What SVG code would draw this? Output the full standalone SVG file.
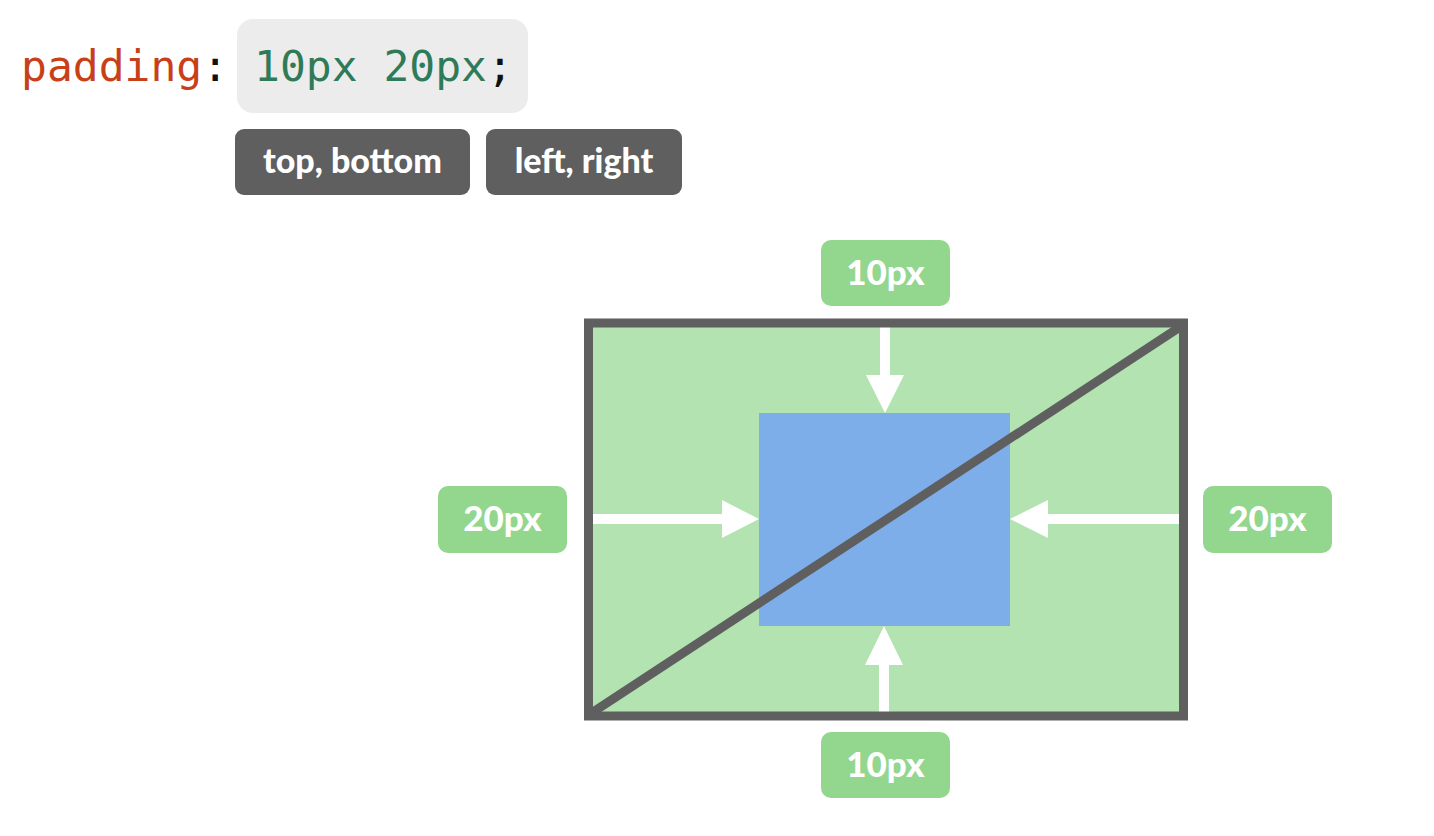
<svg xmlns="http://www.w3.org/2000/svg" width="1434" height="836" viewBox="0 0 1434 836">
  <style>
    .code { font-family: "DejaVu Sans Mono", "Liberation Mono", monospace; font-size: 43px; }
    .tag { fill: #5f5f5f; }
    .tagtxt { font-family: Lato, "Open Sans", sans-serif; font-weight: 900; font-size: 34px; fill: #ffffff; text-anchor: middle; }
    .lbl { fill: #93d68e; }
    .lbltxt { font-family: Lato, "Open Sans", sans-serif; font-weight: 900; font-size: 35px; fill: #ffffff; text-anchor: middle; }
    .arrow { fill: #ffffff; }
  </style>
  <rect width="1434" height="836" fill="#ffffff"/>

  <g id="code">
    <rect x="237" y="19" width="291" height="94" rx="16" fill="#ececec"/>
    <text class="code" x="21" y="81"><tspan fill="#c8401a">padding</tspan><tspan fill="#111111">:</tspan><tspan x="254" fill="#2f7a58">10px 20px</tspan><tspan fill="#111111">;</tspan></text>
  </g>

  <g id="tag-topbottom">
    <rect class="tag" x="235" y="129" width="235" height="66" rx="9"/>
    <text class="tagtxt" x="352.5" y="173">top, bottom</text>
  </g>
  <g id="tag-leftright">
    <rect class="tag" x="486" y="129" width="196" height="66" rx="9"/>
    <text class="tagtxt" x="584" y="173">left, right</text>
  </g>

  <g id="box">
    <rect x="588.5" y="323" width="595" height="393" fill="#b3e3b0"/>
    <rect x="759" y="413" width="251" height="213" fill="#7eaee9"/>
  </g>

  <g id="connectors">
    <path class="arrow" d="M880 327 H890 V375 H904 L885 413 L866 375 H880 Z"/>
    <path class="arrow" d="M879 712 H889 V665 H903 L884 626 L865 665 H879 Z"/>
    <path class="arrow" d="M593 514 V524 H722 V538 L759 519 L722 500 V514 Z"/>
    <path class="arrow" d="M1179 514 V524 H1048 V538 L1010 519 L1048 500 V514 Z"/>
  </g>

  <g id="frame">
    <line x1="590" y1="714" x2="1183" y2="325" stroke="#5f5f5f" stroke-width="9"/>
    <rect x="588.5" y="323" width="595" height="393" fill="none" stroke="#5f5f5f" stroke-width="9"/>
  </g>

  <g id="label-top">
    <rect class="lbl" x="821" y="240" width="129" height="66" rx="10"/>
    <text class="lbltxt" x="885.5" y="285">10px</text>
  </g>
  <g id="label-bottom">
    <rect class="lbl" x="821" y="732" width="129" height="66" rx="10"/>
    <text class="lbltxt" x="885.5" y="777">10px</text>
  </g>
  <g id="label-left">
    <rect class="lbl" x="438" y="486" width="129" height="67" rx="10"/>
    <text class="lbltxt" x="502.5" y="531">20px</text>
  </g>
  <g id="label-right">
    <rect class="lbl" x="1203" y="486" width="129" height="67" rx="10"/>
    <text class="lbltxt" x="1267.5" y="531">20px</text>
  </g>
</svg>
